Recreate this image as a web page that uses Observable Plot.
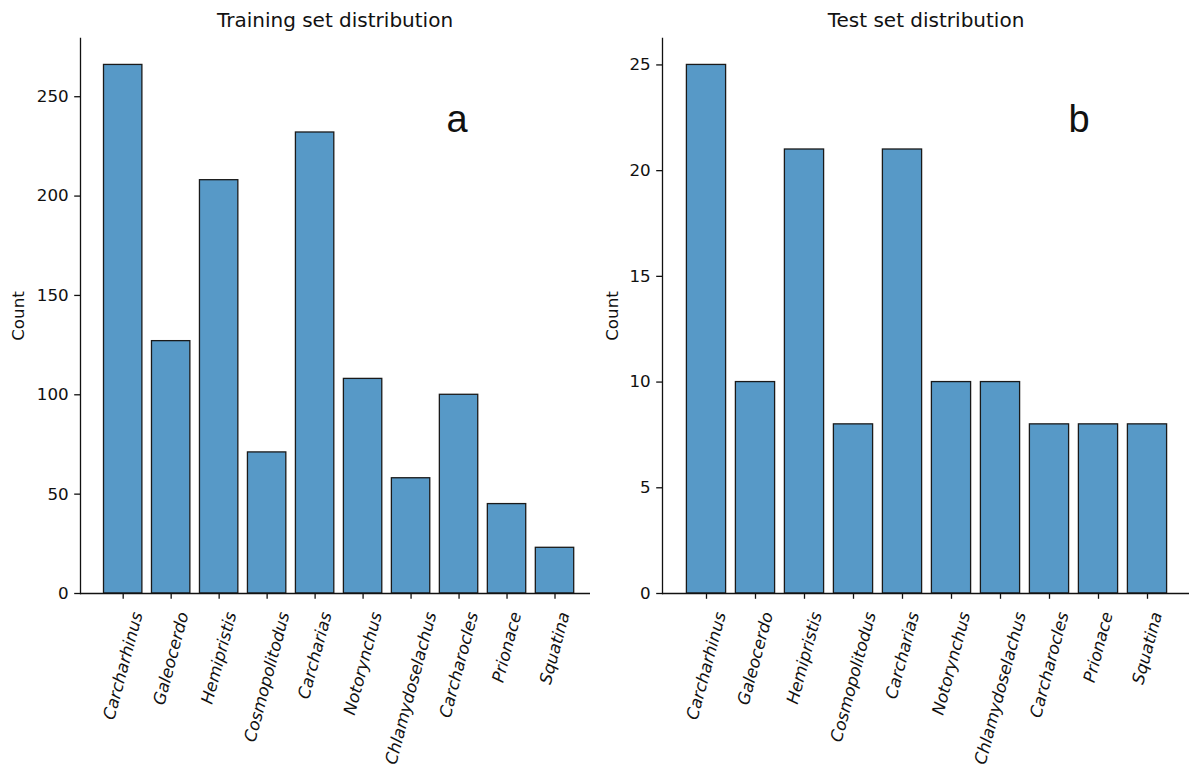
<!DOCTYPE html>
<html><head><meta charset="utf-8">
<script src="https://cdn.jsdelivr.net/npm/d3@7"></script>
<script src="https://cdn.jsdelivr.net/npm/@observablehq/plot@0.6"></script>
<style>
body{margin:0;background:#fff;}
#page{position:relative;width:1189px;height:769px;overflow:hidden;font-family:"DejaVu Sans",sans-serif;color:#111;}
.abs{position:absolute;white-space:nowrap;}
.title{font-size:20px;line-height:20px;text-align:center;}
.letter{font-family:"Liberation Sans",Arial,sans-serif;font-size:38px;line-height:38px;text-align:center;width:40px;}
.ylab{font-size:16.7px;line-height:17px;transform:translate(-50%,-50%) rotate(-90deg);}
.panel{position:absolute;top:28px;}
</style></head><body><div id="page"></div>
<script>
const genera = ["Carcharhinus","Galeocerdo","Hemipristis","Cosmopolitodus","Carcharias","Notorynchus","Chlamydoselachus","Carcharocles","Prionace","Squatina"];
const trainCounts = [266,127,208,71,232,108,58,100,45,23];
const testCounts = [25,10,21,8,21,10,10,8,8,8];
const trainTicks = [0,50,100,150,200,250];
const testTicks = [0,5,10,15,20,25];
const titles = ["Training set distribution","Test set distribution"];
const letters = ["a","b"];
const yLabel = "Count";

const ctx = document.createElement("canvas").getContext("2d");
ctx.font = "italic 16.7px 'DejaVu Sans'";
const measure = s => ctx.measureText(s).width;

const page = document.getElementById("page");
const ink = "#111";

function panel(cfg){
  const data = genera.map((g,i)=>({genus:g, count:cfg.counts[i]}));
  const svg = Plot.plot({
    width: cfg.width, height: 741,
    marginTop: 10, marginBottom: 176, marginLeft: cfg.marginLeft, marginRight: cfg.marginRight,
    style: {fontFamily: "DejaVu Sans", fontSize: "16.7px", color: ink, background: "transparent", overflow: "visible"},
    x: {domain: genera, paddingInner: 0.2, paddingOuter: 0.1, align: 0.5, round: false, insetLeft: cfg.insetLeft, insetRight: cfg.insetRight, axis: null},
    y: {domain: [0, cfg.yMax], axis: null},
    marks: [
      Plot.barY(data, {x: "genus", y: "count", fill: "#5799c7", stroke: "#1a1a1a", strokeWidth: 1.3}),
      Plot.axisX({tickSize: 5.8, tickFormat: () => "", label: null, stroke: ink, strokeWidth: 1.3}),
      Plot.axisY({ticks: cfg.ticks, tickSize: 5.8, tickPadding: 6, fontSize: 16.7, label: null, stroke: ink, strokeWidth: 1.3}),
      Plot.ruleY([0], {stroke: ink, strokeWidth: 1.3}),
      Plot.frame({anchor: "left", stroke: ink, strokeWidth: 1.3}),
      ...genera.map(g => Plot.text([g], {x: d => d, text: d => d, frameAnchor: "bottom", rotate: -75, textAnchor: "end", lineAnchor: "middle", fontStyle: "italic", fontSize: 16.7, fill: ink, dy: 19, dx: 0.1294 * measure(g)}))
    ]
  });
  const wrap = document.createElement("div");
  wrap.className = "panel";
  wrap.style.left = cfg.left + "px";
  wrap.appendChild(svg);
  page.appendChild(wrap);

  const t = document.createElement("div");
  t.className = "abs title"; t.textContent = cfg.title;
  t.style.top = "10px"; t.style.left = (cfg.titleX - 200) + "px"; t.style.width = "400px";
  page.appendChild(t);

  const l = document.createElement("div");
  l.className = "abs letter"; l.textContent = cfg.letter;
  l.style.top = "100px"; l.style.left = (cfg.letterX - 20) + "px";
  page.appendChild(l);

  const c = document.createElement("div");
  c.className = "abs ylab"; c.textContent = yLabel;
  c.style.top = "316px"; c.style.left = cfg.countX + "px";
  page.appendChild(c);
}

panel({left: 0, width: 595, marginLeft: 80, marginRight: 5, insetLeft: 18.7, insetRight: 11.5,
  yMax: 279.3, ticks: trainTicks, counts: trainCounts, title: titles[0], titleX: 335, letter: letters[0], letterX: 457, countX: 18});
panel({left: 595, width: 594, marginLeft: 67, marginRight: 0, insetLeft: 19.5, insetRight: 17.5,
  yMax: 26.25, ticks: testTicks, counts: testCounts, title: titles[1], titleX: 926, letter: letters[1], letterX: 1079, countX: 612});
</script></body></html>
